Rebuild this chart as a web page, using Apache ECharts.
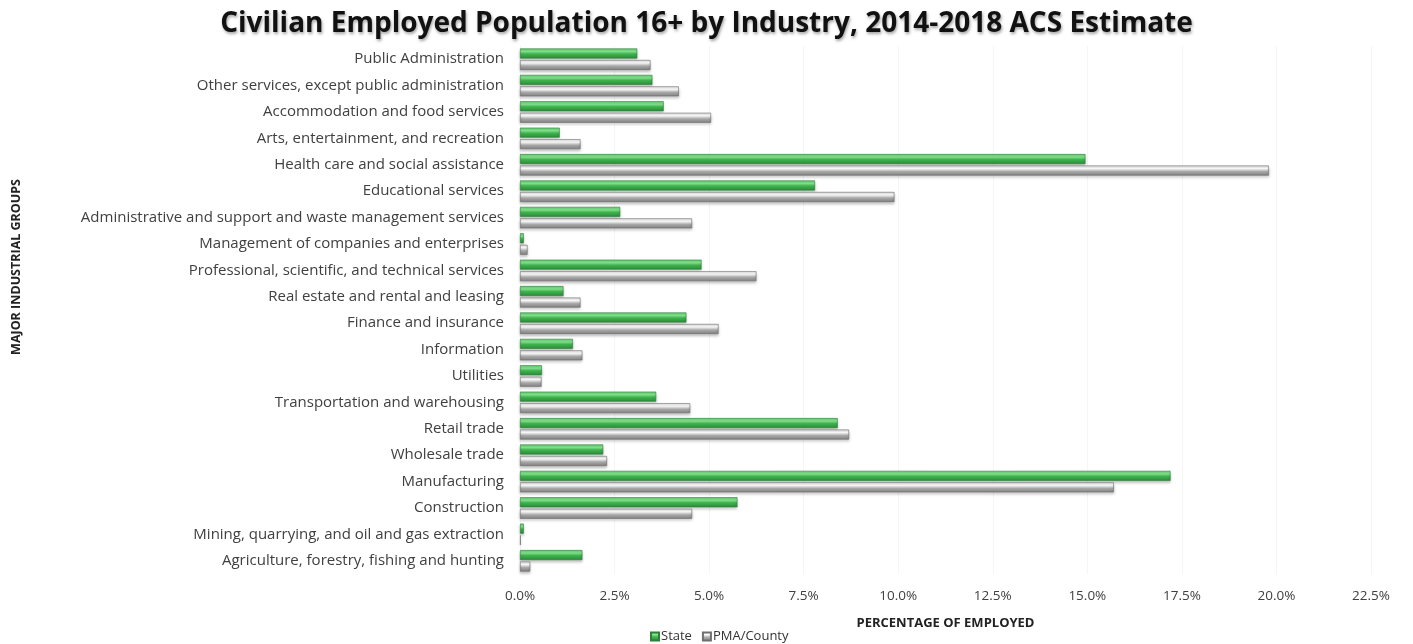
<!DOCTYPE html>
<html>
<head>
<meta charset="utf-8">
<title>Civilian Employed Population 16+ by Industry</title>
<script src="https://cdn.jsdelivr.net/npm/echarts@6/dist/echarts.min.js"></script>
<style>
  html, body { margin: 0; padding: 0; background: #fff; }
  #chart { width: 1413px; height: 644px; }
</style>
</head>
<body>
<div id="chart"></div>
<script>
// Industry groups, listed top to bottom
const industries = [
  'Public Administration',
  'Other services, except public administration',
  'Accommodation and food services',
  'Arts, entertainment, and recreation',
  'Health care and social assistance',
  'Educational services',
  'Administrative and support and waste management services',
  'Management of companies and enterprises',
  'Professional, scientific, and technical services',
  'Real estate and rental and leasing',
  'Finance and insurance',
  'Information',
  'Utilities',
  'Transportation and warehousing',
  'Retail trade',
  'Wholesale trade',
  'Manufacturing',
  'Construction',
  'Mining, quarrying, and oil and gas extraction',
  'Agriculture, forestry, fishing and hunting'
];

// Share of employed population (%)
const stateShare = [3.1, 3.5, 3.8, 1.05, 14.95, 7.8, 2.65, 0.1, 4.8, 1.15, 4.4, 1.4, 0.58, 3.6, 8.4, 2.2, 17.2, 5.75, 0.1, 1.65];
const countyShare = [3.45, 4.2, 5.05, 1.6, 19.8, 9.9, 4.55, 0.2, 6.25, 1.6, 5.25, 1.65, 0.57, 4.5, 8.7, 2.3, 15.7, 4.55, 0.02, 0.27];

const seriesNames = ['State', 'PMA/County'];

const chart = echarts.init(document.getElementById('chart'));

function tube(stops) {
  return new echarts.graphic.LinearGradient(0, 0, 0, 1, stops);
}

const greenFill = tube([
  { offset: 0, color: '#5fc96c' },
  { offset: 0.3, color: '#86e690' },
  { offset: 0.55, color: '#3fb34e' },
  { offset: 1, color: '#2a8a38' }
]);
const grayFill = tube([
  { offset: 0, color: '#d8d8d8' },
  { offset: 0.3, color: '#ffffff' },
  { offset: 0.6, color: '#a8a8a8' },
  { offset: 1, color: '#808080' }
]);

const labelFont = '"Open Sans", Lato, sans-serif';

chart.setOption({
  animation: false,
  title: {
    text: 'Civilian Employed Population 16+ by Industry, 2014-2018 ACS Estimate',
    left: 'center',
    top: 5,
    textStyle: {
      fontFamily: labelFont,
      fontWeight: 'bold',
      fontSize: 28,
      color: '#111',
      textShadowColor: 'rgba(0,0,0,0.35)',
      textShadowBlur: 3,
      textShadowOffsetX: 1,
      textShadowOffsetY: 2
    }
  },
  legend: {
    data: seriesNames,
    top: 625,
    left: 645,
    itemWidth: 8,
    itemHeight: 8,
    itemGap: 10,
    icon: 'rect',
    textStyle: { fontFamily: labelFont, fontSize: 13, color: '#333', padding: [0, 0, 0, -3] }
  },
  grid: { left: 520, right: 42, top: 46, bottom: 70, containLabel: false },
  xAxis: {
    type: 'value',
    min: 0,
    max: 22.5,
    interval: 2.5,
    name: 'PERCENTAGE OF EMPLOYED',
    nameLocation: 'middle',
    nameGap: 43,
    nameTextStyle: { fontFamily: labelFont, fontWeight: 'bold', fontSize: 13, color: '#222' },
    axisLine: { show: false },
    axisTick: { show: false },
    axisLabel: {
      fontFamily: labelFont, fontSize: 13.5, color: '#404040', margin: 15,
      formatter: v => v.toFixed(1) + '%'
    },
    splitLine: { show: true, lineStyle: { color: '#f5f5f5', width: 1 } }
  },
  yAxis: {
    type: 'category',
    data: industries,
    inverse: true,
    axisLine: { show: false },
    axisTick: { show: false },
    axisLabel: { fontFamily: labelFont, fontSize: 15, color: '#404040', margin: 16 }
  },
  graphic: [{
    type: 'text',
    left: 10,
    top: 179,
    rotation: Math.PI / 2,
    style: {
      text: 'MAJOR INDUSTRIAL GROUPS',
      font: 'bold 12.5px ' + labelFont,
      fill: '#222'
    }
  }],
  series: [
    {
      name: seriesNames[0],
      type: 'bar',
      data: stateShare,
      barWidth: 10,
      barGap: '15%',
      itemStyle: {
        color: greenFill,
        borderColor: '#2f7f3a',
        borderWidth: 0.6,
        shadowColor: 'rgba(0,0,0,0.25)',
        shadowBlur: 3,
        shadowOffsetY: 2
      }
    },
    {
      name: seriesNames[1],
      type: 'bar',
      data: countyShare,
      barWidth: 10,
      barGap: '15%',
      itemStyle: {
        color: grayFill,
        borderColor: '#6f6f6f',
        borderWidth: 0.6,
        shadowColor: 'rgba(0,0,0,0.25)',
        shadowBlur: 3,
        shadowOffsetY: 2
      }
    }
  ]
});
</script>
</body>
</html>
